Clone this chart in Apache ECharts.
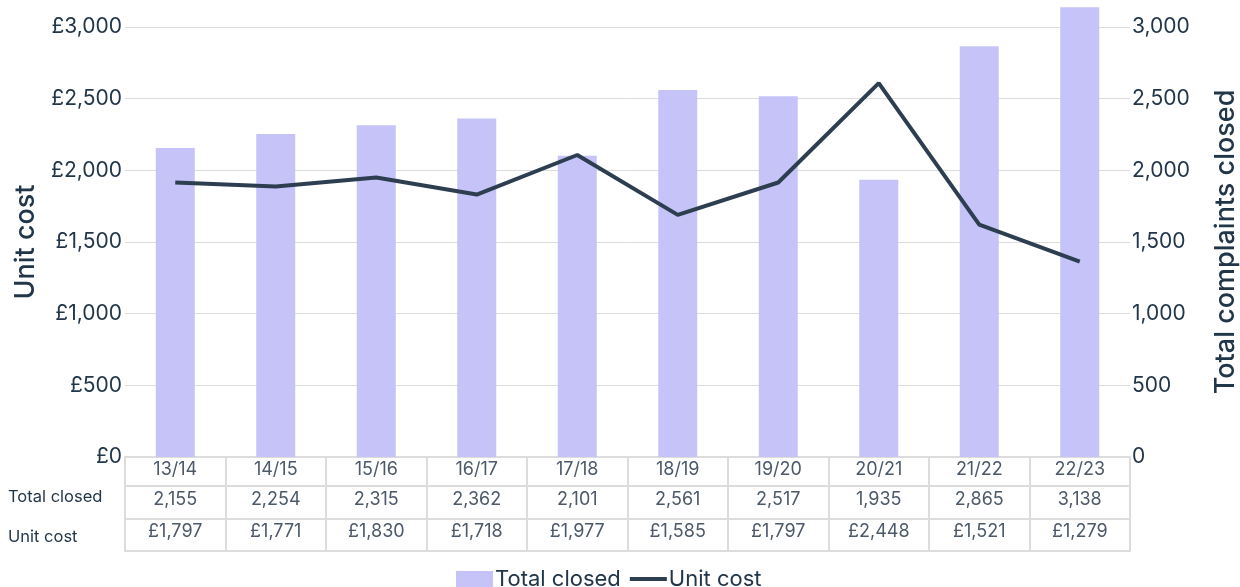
<!DOCTYPE html>
<html lang="en">
<head>
    <meta charset="UTF-8">
    <title>Unit cost and total complaints closed</title>
    <script src="https://cdn.jsdelivr.net/npm/echarts@6/dist/echarts.min.js"></script>
    <style>
        html, body { margin: 0; padding: 0; background: #fff; }
        #main { width: 1240px; height: 587px; }
    </style>
</head>
<body>
<div id="main"></div>
<script>
    var categories = ['13/14', '14/15', '15/16', '16/17', '17/18', '18/19', '19/20', '20/21', '21/22', '22/23'];
    var totalClosed = [2155, 2254, 2315, 2362, 2101, 2561, 2517, 1935, 2865, 3138];
    var unitCost = [1797, 1771, 1830, 1718, 1977, 1585, 1797, 2448, 1521, 1279];
    var leftTicks = [0, 500, 1000, 1500, 2000, 2500, 3000];

    var font = 'Inter, "Noto Sans", sans-serif';
    var dark = '#22364a';
    var grey = '#4c5969';
    var border = '#dcdcdc';

    function fmt(n) {
        return n.toString().replace(/\B(?=(\d{3})+(?!\d))/g, ',');
    }

    // thin bar used as the legend mark of the line (the top/bottom dots keep the box 37x16)
    var lineIcon = 'path://M0,0 L0.01,0 L0,0.01 Z M0,6 L37,6 L37,10 L0,10 Z M0,16 L0.01,16 L0,15.99 Z';

    var myChart = echarts.init(document.getElementById('main'));
    var option = {
        animation: false,
        textStyle: { fontFamily: font },
        grid: { left: 125, right: 110, top: 27, bottom: 130, outerBoundsMode: 'none' },
        legend: {
            left: 456,
            top: 568,
            padding: 0,
            itemWidth: 37,
            itemHeight: 16,
            itemGap: 9,
            textStyle: { fontSize: 22, color: dark, fontFamily: font, padding: [0, 0, 0, -3] },
            data: [
                { name: 'Total closed', icon: 'rect' },
                { name: 'Unit cost', icon: lineIcon }
            ]
        },
        xAxis: [
            {
                type: 'category',
                data: categories,
                position: 'bottom',
                axisLine: { onZero: false, lineStyle: { color: border, width: 2 } },
                axisTick: { show: true, length: 94, lineStyle: { color: border, width: 2 } },
                axisLabel: { margin: 4, fontSize: 18, color: grey, fontFamily: font }
            },
            {
                type: 'category',
                data: totalClosed.map(fmt),
                position: 'bottom',
                offset: 29,
                axisLine: { onZero: false, lineStyle: { color: border, width: 2 } },
                axisTick: { show: false },
                axisLabel: { margin: 5, fontSize: 18, color: grey, fontFamily: font }
            },
            {
                type: 'category',
                data: unitCost.map(function (v) { return '£' + fmt(v); }),
                position: 'bottom',
                offset: 62,
                axisLine: { onZero: false, lineStyle: { color: border, width: 2 } },
                axisTick: { show: false },
                axisLabel: { margin: 4, fontSize: 18, color: grey, fontFamily: font }
            },
            {
                type: 'category',
                data: categories,
                position: 'bottom',
                offset: 94,
                axisLine: { onZero: false, lineStyle: { color: border, width: 2 } },
                axisTick: { show: false },
                axisLabel: { show: false }
            }
        ],
        yAxis: [
            {
                type: 'value',
                min: leftTicks[0],
                max: leftTicks[leftTicks.length - 1],
                interval: 500,
                position: 'left',
                name: 'Unit cost',
                nameLocation: 'middle',
                nameGap: 86,
                nameTextStyle: { fontSize: 27, color: dark, fontWeight: 500, fontFamily: font },
                axisLine: { show: false },
                axisTick: { show: false },
                splitLine: { lineStyle: { color: border, width: 1 } },
                axisLabel: {
                    margin: 3, fontSize: 21, color: dark, fontFamily: font,
                    formatter: function (v) { return '£' + fmt(v); }
                }
            },
            {
                type: 'value',
                min: 0,
                max: 3000,
                interval: 500,
                position: 'right',
                name: 'Total complaints closed',
                nameLocation: 'middle',
                nameGap: 82,
                nameTextStyle: { fontSize: 27, color: dark, fontWeight: 500, fontFamily: font },
                axisLine: { show: false },
                axisTick: { show: false },
                splitLine: { show: false },
                axisLabel: {
                    margin: 2, fontSize: 21, color: dark, fontFamily: font,
                    formatter: function (v) { return fmt(v); }
                }
            },
            {
                // line is drawn on its own stretched scale, as in the source chart
                type: 'value',
                min: 0,
                max: 2815,
                show: false
            }
        ],
        graphic: [
            { type: 'text', left: 8, top: 489, style: { text: 'Total closed', fontSize: 16.5, fill: dark, fontFamily: font } },
            { type: 'text', left: 8, top: 529, style: { text: 'Unit cost', fontSize: 16.5, fill: dark, fontFamily: font } }
        ],
        series: [
            {
                name: 'Total closed',
                type: 'bar',
                xAxisIndex: 0,
                yAxisIndex: 1,
                barWidth: 39,
                clip: false,
                itemStyle: { color: '#c5c3f7' },
                data: totalClosed
            },
            {
                name: 'Unit cost',
                type: 'line',
                xAxisIndex: 0,
                yAxisIndex: 2,
                symbol: 'none',
                z: 5,
                lineStyle: { color: '#2d3e50', width: 4 },
                itemStyle: { color: '#2d3e50' },
                data: unitCost
            }
        ]
    };
    myChart.setOption(option);
</script>
</body>
</html>
